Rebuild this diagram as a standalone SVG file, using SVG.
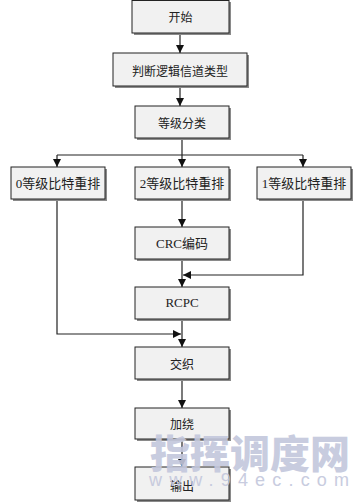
<svg xmlns="http://www.w3.org/2000/svg" width="361" height="504" viewBox="0 0 361 504">
<style>
.sh{fill:#8a8a8a}
.bx{fill:#f1f1f1;stroke:#222;stroke-width:1}
.t{font-family:"Noto Sans CJK SC","Noto Sans CJK JP",sans-serif;font-size:12px;fill:#222;text-anchor:middle;dominant-baseline:central}
.s{font-family:"Liberation Serif","Noto Sans CJK SC",serif;font-size:13px;fill:#222;text-anchor:middle;dominant-baseline:central}
.ln{fill:none;stroke:#222;stroke-width:1.2}
.wm{font-family:"Noto Sans CJK SC",sans-serif;font-weight:900;fill:#c3c7dc;opacity:0.9}
.wm2{font-family:"Liberation Sans",sans-serif;fill:#c3c7dc;opacity:0.9}
</style>
<defs>
<marker id="ar" viewBox="0 0 10 10" refX="10" refY="5" markerWidth="8" markerHeight="8" markerUnits="userSpaceOnUse" orient="auto">
<path d="M0,0 L10,5 L0,10 Z" fill="#111"/>
</marker>
</defs>
<g id="connectors">
<path class="ln" d="M180,33 V53" marker-end="url(#ar)"/>
<path class="ln" d="M180,86 V106" marker-end="url(#ar)"/>
<path class="ln" d="M182,138 V167" marker-end="url(#ar)"/>
<path class="ln" d="M57,155 H303"/>
<path class="ln" d="M57,155 V167" marker-end="url(#ar)"/>
<path class="ln" d="M303,155 V167" marker-end="url(#ar)"/>
<path class="ln" d="M182,199 V227" marker-end="url(#ar)"/>
<path class="ln" d="M182,259 V287" marker-end="url(#ar)"/>
<path class="ln" d="M303,199 V275 H183" marker-end="url(#ar)"/>
<path class="ln" d="M57,199 V334 H181" marker-end="url(#ar)"/>
<path class="ln" d="M182,319 V347" marker-end="url(#ar)"/>
<path class="ln" d="M182,379 V408" marker-end="url(#ar)"/>
<path class="ln" d="M182,439 V467" marker-end="url(#ar)"/>
</g>
<g id="n1"><rect class="sh" x="134" y="2" width="97" height="33"/><rect class="bx" x="132" y="0.5" width="97" height="32.5"/><text class="t" x="180.5" y="16.5">开始</text></g>
<g id="n2"><rect class="sh" x="115" y="55" width="134" height="33"/><rect class="bx" x="113" y="53" width="134" height="33"/><text class="t" x="180" y="70">判断逻辑信道类型</text></g>
<g id="n3"><rect class="sh" x="137" y="108" width="94" height="32"/><rect class="bx" x="135" y="106" width="94" height="32"/><text class="t" x="182" y="122.5">等级分类</text></g>
<g id="n4"><rect class="sh" x="13" y="169" width="94" height="32"/><rect class="bx" x="11" y="167" width="94" height="32"/><text class="s" x="58" y="183.5">0等级比特重排</text></g>
<g id="n5"><rect class="sh" x="137" y="169" width="94" height="32"/><rect class="bx" x="135" y="167" width="94" height="32"/><text class="s" x="182" y="183.5">2等级比特重排</text></g>
<g id="n6"><rect class="sh" x="259" y="169" width="94" height="32"/><rect class="bx" x="257" y="167" width="94" height="32"/><text class="s" x="304" y="183.5">1等级比特重排</text></g>
<g id="n7"><rect class="sh" x="137" y="229" width="94" height="32"/><rect class="bx" x="135" y="227" width="94" height="32"/><text class="s" x="182" y="243">CRC编码</text></g>
<g id="n8"><rect class="sh" x="137" y="289" width="94" height="32"/><rect class="bx" x="135" y="287" width="94" height="32"/><text class="s" x="182" y="302">RCPC</text></g>
<g id="n9"><rect class="sh" x="137" y="349" width="94" height="32"/><rect class="bx" x="135" y="347" width="94" height="32"/><text class="t" x="182" y="363">交织</text></g>
<g id="n10"><rect class="sh" x="137" y="410" width="94" height="31"/><rect class="bx" x="135" y="408" width="94" height="31"/><text class="t" x="182" y="423">加绕</text></g>
<g id="n11"><rect class="sh" x="137" y="469" width="94" height="33"/><rect class="bx" x="135" y="467" width="94" height="33"/><text class="t" x="182" y="485">输出</text></g>
<g id="watermark">
<text class="wm" x="150" y="468" font-size="39" textLength="200" lengthAdjust="spacingAndGlyphs">指挥调度网</text>
<text class="wm2" x="149" y="486" font-size="18" textLength="200" lengthAdjust="spacing">www.94ec.com</text>
</g>
</svg>
